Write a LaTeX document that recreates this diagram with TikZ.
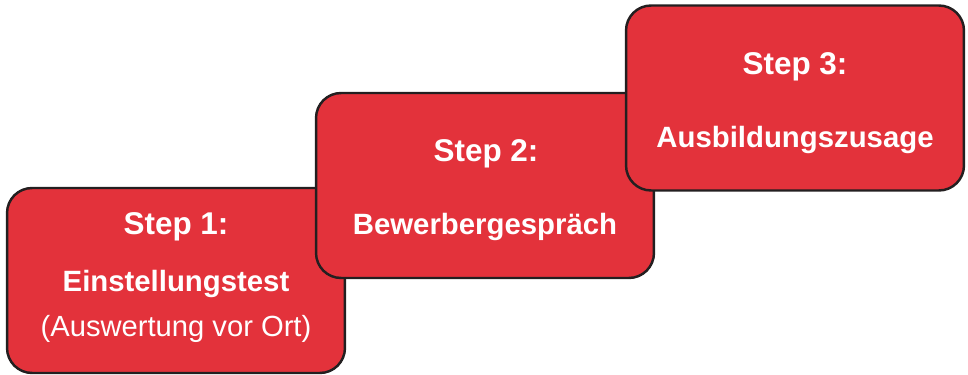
\documentclass[tikz,border=0pt]{standalone}
\usepackage{fontspec}
\setmainfont{Liberation Sans}
\usepackage{tikz}
\usetikzlibrary{positioning}

\definecolor{stepred}{HTML}{E3323B}
\definecolor{stepline}{HTML}{231F20}

\tikzset{
  stepbox/.style={draw=stepline, line width=1.4pt, fill=stepred, rounded corners=0.5cm,
    minimum width=6.76cm, minimum height=3.7cm, inner sep=0pt},
  stephead/.style={text=white, anchor=base, inner sep=0pt, font=\fontsize{17.9}{21}\selectfont\bfseries},
  steptitle/.style={text=white, anchor=base, inner sep=0pt, font=\fontsize{16.7}{20}\selectfont\bfseries},
  stepnote/.style={text=white, anchor=base, inner sep=0pt, font=\fontsize{16.6}{20}\selectfont}
}

\begin{document}
\begin{tikzpicture}[x=0.02cm, y=-0.02cm]
\useasboundingbox (0,0) rectangle (968,375);

% step 1
\node[stepbox] (box1) at (176,280.5) {};
\node[stephead] (step1) at (176,235) {Step 1:};
\node[steptitle] (test) at (176,292) {Einstellungstest};
\node[stepnote] (ort) at (176,337) {(Auswertung vor Ort)};

% step 2
\node[stepbox] (box2) at (485,185.5) {};
\node[stephead] (step2) at (486,162) {Step 2:};
\node[steptitle] (gespraech) at (485,235) {Bewerbergespräch};

% step 3
\node[stepbox] (box3) at (795,98) {};
\node[stephead] (step3) at (795,75) {Step 3:};
\node[steptitle] (zusage) at (795,148) {Ausbildungszusage};
\end{tikzpicture}
\end{document}
